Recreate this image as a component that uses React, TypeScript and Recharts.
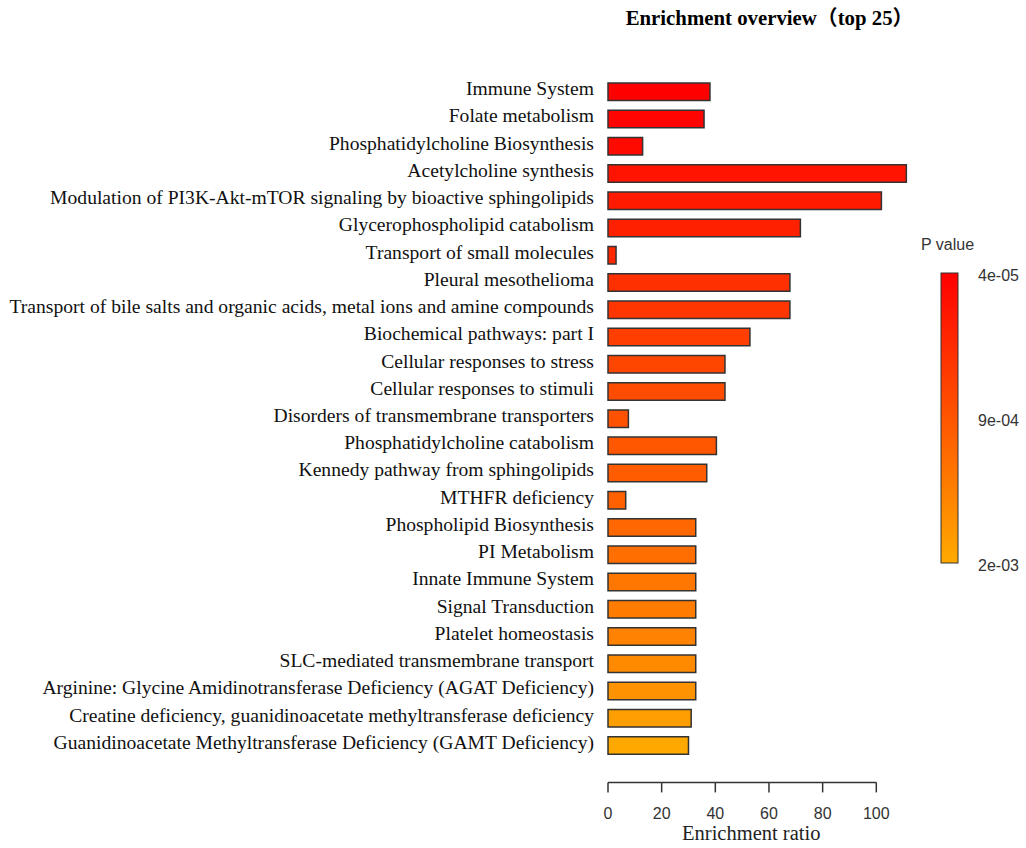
import React from 'react';
import { BarChart, Bar, XAxis, YAxis, Cell } from 'recharts';

const categories = [
  'Immune System',
  'Folate metabolism',
  'Phosphatidylcholine Biosynthesis',
  'Acetylcholine synthesis',
  'Modulation of PI3K-Akt-mTOR signaling by bioactive sphingolipids',
  'Glycerophospholipid catabolism',
  'Transport of small molecules',
  'Pleural mesothelioma',
  'Transport of bile salts and organic acids, metal ions and amine compounds',
  'Biochemical pathways: part I',
  'Cellular responses to stress',
  'Cellular responses to stimuli',
  'Disorders of transmembrane transporters',
  'Phosphatidylcholine catabolism',
  'Kennedy pathway from sphingolipids',
  'MTHFR deficiency',
  'Phospholipid Biosynthesis',
  'PI Metabolism',
  'Innate Immune System',
  'Signal Transduction',
  'Platelet homeostasis',
  'SLC-mediated transmembrane transport',
  'Arginine: Glycine Amidinotransferase Deficiency (AGAT Deficiency)',
  'Creatine deficiency, guanidinoacetate methyltransferase deficiency',
  'Guanidinoacetate Methyltransferase Deficiency (GAMT Deficiency)',
];

const enrichmentRatio = [
  38.0, 35.8, 12.9, 111.2, 101.9, 71.7, 3.0, 67.8, 67.8, 52.9, 43.6, 43.6, 7.6,
  40.4, 36.8, 6.6, 32.7, 32.7, 32.7, 32.7, 32.7, 32.7, 32.7, 31.0, 30.0,
];

const pValues = [
  4.0e-5, 8.6e-5, 1.55e-4, 2.7e-4, 3.4e-4, 4.1e-4, 4.8e-4, 5.9e-4, 6.6e-4, 7.5e-4,
  8.5e-4, 9.2e-4, 9.8e-4, 1.03e-3, 1.1e-3, 1.15e-3, 1.24e-3, 1.31e-3, 1.4e-3, 1.47e-3,
  1.54e-3, 1.63e-3, 1.72e-3, 1.86e-3, 1.98e-3,
];

const xTicks = [0, 20, 40, 60, 80, 100];
const legendLabels = ['4e-05', '9e-04', '2e-03'];

const P_MIN = 4e-5;
const P_MAX = 2e-3;
const LOW_COLOR = [255, 0, 0];
const HIGH_COLOR = [255, 170, 0];

const colorFor = (p: number) => {
  const t = Math.min(1, Math.max(0, (p - P_MIN) / (P_MAX - P_MIN)));
  const c = LOW_COLOR.map((v, i) => Math.round(v + (HIGH_COLOR[i] - v) * t));
  return `rgb(${c[0]},${c[1]},${c[2]})`;
};

const data = categories.map((name, i) => ({
  name,
  ratio: enrichmentRatio[i],
  p: pValues[i],
}));

const W = 1026;
const H = 848;
const Y_AXIS_W = 608;
const X_MAX = 112;
const MARGIN = { top: 78, right: 117.5, bottom: 9, left: 0 };
const X_AXIS_H = 80;
const PX_PER_UNIT = (W - Y_AXIS_W - MARGIN.right) / X_MAX;
const AXIS_DROP = 23.4;

const serif = '"Liberation Serif", "Times New Roman", serif';
const sans = '"Liberation Sans", Arial, sans-serif';

const XTick = (props: any) => {
  const { x, y, payload, index } = props;
  const ay = y + AXIS_DROP;
  const step = index < xTicks.length - 1 ? (xTicks[index + 1] - xTicks[index]) * PX_PER_UNIT : 0;
  return (
    <g>
      {step > 0 && <line x1={x} x2={x + step} y1={ay} y2={ay} stroke="#333" strokeWidth={1.5} />}
      <line x1={x} x2={x} y1={ay} y2={ay + 10} stroke="#333" strokeWidth={1.5} />
      <text x={x} y={ay + 37} textAnchor="middle" fontFamily={sans} fontSize={16} fill="#333">
        {payload.value}
      </text>
    </g>
  );
};

const YTick = (props: any) => {
  const { x, y, payload } = props;
  return (
    <text x={x} y={y + 3.5} textAnchor="end" fontFamily={serif} fontSize={19.6} fill="#111">
      {payload.value}
    </text>
  );
};

const ColorLegend = () => {
  const x = 941;
  const top = 273;
  const h = 290;
  return (
    <svg width={W} height={H} style={{ position: 'absolute', left: 0, top: 0, pointerEvents: 'none' }}>
      <defs>
        <linearGradient id="pgrad" x1="0" y1="0" x2="0" y2="1">
          <stop offset="0%" stopColor={colorFor(P_MIN)} />
          <stop offset="100%" stopColor={colorFor(P_MAX)} />
        </linearGradient>
      </defs>
      <text x={769.5} y={25} textAnchor="middle" fontFamily={`${serif}, "Noto Sans CJK SC"`} fontWeight="bold" fontSize={20.8} fill="#000">
        Enrichment overview（top 25）
      </text>
      <text x={921} y={250} fontFamily={sans} fontSize={16} fill="#333">
        P value
      </text>
      <rect x={x} y={top} width={17} height={h} fill="url(#pgrad)" stroke="#333" strokeWidth={1} />
      {legendLabels.map((l, i) => (
        <text
          key={l}
          x={978}
          y={top + (h * i) / (legendLabels.length - 1) + 8}
          fontFamily={sans}
          fontSize={16}
          fill="#333"
        >
          {l}
        </text>
      ))}
    </svg>
  );
};

export default function App() {
  return (
    <div style={{ position: 'absolute', left: 0, top: 0, width: W, height: H, background: '#fff' }}>
      <BarChart width={W} height={H} data={data} layout="vertical" margin={MARGIN} barCategoryGap="32%">
        <XAxis
          type="number"
          domain={[0, X_MAX]}
          ticks={xTicks}
          interval={0}
          axisLine={false}
          tickLine={false}
          tickSize={0}
          tickMargin={0}
          height={X_AXIS_H}
          tick={<XTick />}
          label={{
            value: 'Enrichment ratio',
            position: 'insideBottom',
            offset: -1,
            dx: -7,
            style: { fontFamily: serif, fontSize: 20.5, fill: '#222' },
          }}
        />
        <YAxis
          type="category"
          dataKey="name"
          width={Y_AXIS_W}
          interval={0}
          axisLine={false}
          tickLine={false}
          tickSize={0}
          tickMargin={14}
          tick={<YTick />}
        />
        <Bar dataKey="ratio" barSize={17.5} stroke="#333" strokeWidth={1.5} isAnimationActive={false}>
          {data.map((d) => (
            <Cell key={d.name} fill={colorFor(d.p)} />
          ))}
        </Bar>
      </BarChart>
      <ColorLegend />
    </div>
  );
}
